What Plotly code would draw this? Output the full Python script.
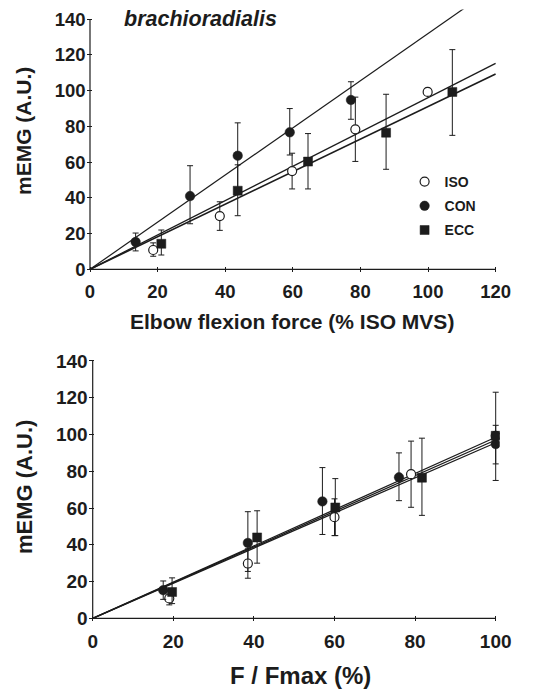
import plotly.graph_objects as go

# ---------------- data ----------------
# Top panel: elbow flexion force (% ISO MVS)
iso_force = [18.7, 38.4, 59.8, 78.5, 99.9]
con_force = [13.5, 29.6, 43.7, 59.1, 77.2]
ecc_force = [21.1, 43.7, 64.5, 87.6, 107.2]
# Bottom panel: F / Fmax (%)
iso_rel = [19.0, 38.5, 60.0, 79.0, 100.0]
con_rel = [17.5, 38.5, 57.0, 76.0, 100.0]
ecc_rel = [19.7, 40.8, 60.2, 81.7, 100.0]
# mEMG (A.U.)
iso_emg = [10.8, 29.8, 55.0, 78.4, 99.3]
con_emg = [15.3, 41.0, 63.6, 76.7, 94.8]
ecc_emg = [14.3, 44.0, 60.3, 76.5, 99.3]
iso_err_up = [4.0, 8.0, 10.0, 18.0, 2.0]
iso_err_dn = [3.5, 8.0, 10.0, 18.0, 2.0]
con_err_up = [5.0, 17.0, 18.4, 13.3, 10.2]
con_err_dn = [5.0, 15.5, 18.0, 12.7, 10.8]
ecc_err_up = [7.7, 14.5, 15.7, 21.5, 23.7]
ecc_err_dn = [6.3, 14.0, 15.3, 20.5, 24.3]
# regression slopes (lines through origin)
top_slopes = {"ISO": 0.961, "CON": 1.32, "ECC": 0.911}
bot_slopes = {"ISO": 0.97, "CON": 0.985, "ECC": 0.955}
top_xmax = 120
bot_xmax = 100
x_ticks_top = [0, 20, 40, 60, 80, 100, 120]
x_ticks_bot = [0, 20, 40, 60, 80, 100]
y_ticks = [0, 20, 40, 60, 80, 100, 120, 140]

W, H = 555, 696
INK = "#1c1c1c"
FONT = "Liberation Sans, Arial, sans-serif"

# ---------------- layout geometry (pixels) ----------------
ML, MR, MT, MB = 86, 55, 9, 74
PW, PH = W - ML - MR, H - MT - MB


def xdom(p0, p1):
    return [(p0 - ML) / PW, (p1 - ML) / PW]


def ydom(pbot, ptop):
    return [(H - MB - pbot) / PH, (H - MB - ptop) / PH]


def px_x(p):
    return (p - ML) / PW


def px_y(p):
    return (H - MB - p) / PH


# top axes: x 0->90px, 3.38 px/unit ; y 0->269.3px, 1.786 px/unit
tx0, tsx = 90.0, 3.38
ty0, tsy = 269.3, 1.786
t_xr = [-1.0, 121.0]
t_yr = [-1.5, 145.4]
# bottom axes: x 0->92.7px, 4.03 px/unit ; y 0->618.3px, 1.838 px/unit
bx0, bsx = 92.7, 4.03
by0, bsy = 618.3, 1.838
b_xr = [-1.0, 101.0]
b_yr = [-1.5, 142.0]

fig = go.Figure()

styles = {
    "ISO": dict(symbol="circle", size=9, color="white", line=dict(color=INK, width=1.2)),
    "CON": dict(symbol="circle", size=9.5, color=INK, line=dict(color=INK, width=0.5)),
    "ECC": dict(symbol="square", size=9, color=INK, line=dict(color=INK, width=0.5)),
}
line_w = {"ISO": 1.3, "CON": 1.2, "ECC": 1.6}

top_sets = {
    "ISO": (iso_force, iso_emg, iso_err_up, iso_err_dn),
    "CON": (con_force, con_emg, con_err_up, con_err_dn),
    "ECC": (ecc_force, ecc_emg, ecc_err_up, ecc_err_dn),
}
bot_sets = {
    "ISO": (iso_rel, iso_emg, iso_err_up, iso_err_dn),
    "CON": (con_rel, con_emg, con_err_up, con_err_dn),
    "ECC": (ecc_rel, ecc_emg, ecc_err_up, ecc_err_dn),
}

# regression lines
for name in ["CON", "ISO", "ECC"]:
    fig.add_trace(go.Scatter(x=[0, top_xmax], y=[0, top_slopes[name] * top_xmax],
                             mode="lines", line=dict(color=INK, width=line_w[name]),
                             showlegend=False, hoverinfo="skip", xaxis="x", yaxis="y"))
    fig.add_trace(go.Scatter(x=[0, bot_xmax], y=[0, bot_slopes[name] * bot_xmax],
                             mode="lines", line=dict(color=INK, width=1.3),
                             showlegend=False, hoverinfo="skip", xaxis="x2", yaxis="y2"))

# data points with error bars
for name in ["ISO", "CON", "ECC"]:
    for sets, xa, ya, leg in [(top_sets, "x", "y", True), (bot_sets, "x2", "y2", False)]:
        xs, ys, up, dn = sets[name]
        fig.add_trace(go.Scatter(
            x=xs, y=ys, mode="markers", name=name, xaxis=xa, yaxis=ya,
            marker=styles[name], showlegend=leg, legendgroup=name,
            error_y=dict(type="data", symmetric=False, array=up, arrayminus=dn,
                         color=INK, thickness=1, width=3),
        ))

tick_font = dict(family=FONT, size=18.5, color=INK, weight="bold")
bot_font = dict(family=FONT, size=19, color=INK, weight="bold")
axis_common = dict(showgrid=False, zeroline=False, showline=False, ticks="inside",
                   ticklen=5, tickwidth=1, tickcolor=INK, automargin=False)

fig.update_layout(
    template="none",
    width=W, height=H, margin=dict(l=ML, r=MR, t=MT, b=MB, autoexpand=False),
    paper_bgcolor="white", plot_bgcolor="white",
    font=dict(family=FONT, color=INK),
    xaxis=dict(domain=xdom(tx0 + t_xr[0] * tsx, tx0 + t_xr[1] * tsx), range=t_xr,
               tickvals=x_ticks_top, anchor="y", ticklabelstandoff=7,
               tickfont=tick_font, **axis_common),
    yaxis=dict(domain=ydom(ty0 - t_yr[0] * tsy, ty0 - t_yr[1] * tsy), range=t_yr,
               tickvals=y_ticks, anchor="x", ticklabelstandoff=0,
               tickfont=tick_font, **axis_common),
    xaxis2=dict(domain=xdom(bx0 + b_xr[0] * bsx, bx0 + b_xr[1] * bsx), range=b_xr,
                tickvals=x_ticks_bot, anchor="y2", ticklabelstandoff=7,
                tickfont=bot_font, **axis_common),
    yaxis2=dict(domain=ydom(by0 - b_yr[0] * bsy, by0 - b_yr[1] * bsy), range=b_yr,
                tickvals=y_ticks, anchor="x2", ticklabelstandoff=0,
                tickfont=bot_font, **axis_common),
    legend=dict(x=px_x(404.6), y=px_y(166), xanchor="left", yanchor="top",
                bgcolor="rgba(0,0,0,0)", tracegroupgap=3, itemsizing="trace",
                font=dict(family=FONT, size=14, color=INK, weight="bold")),
    showlegend=True,
)

# axis lines
for xr, yr, xmax in [("x", "y", top_xmax), ("x2", "y2", bot_xmax)]:
    fig.add_shape(type="line", xref=xr, yref=yr, x0=0, y0=0, x1=xmax, y1=0,
                  line=dict(color=INK, width=1.2))
    fig.add_shape(type="line", xref=xr, yref=yr, x0=0, y0=0, x1=0, y1=140,
                  line=dict(color=INK, width=1.2))

# texts
ann = [
    dict(text="brachioradialis", x=px_x(121.5), y=px_y(19), xanchor="left", yanchor="middle",
         font=dict(size=21.5, style="italic", weight="bold")),
    dict(text="mEMG (A.U.)", x=px_x(23), y=px_y(131), textangle=-90, xanchor="center",
         yanchor="middle", font=dict(size=21, weight="bold")),
    dict(text="Elbow flexion force (% ISO MVS)", x=px_x(292), y=px_y(321), xanchor="center",
         yanchor="middle", font=dict(size=21, weight="bold")),
    dict(text="mEMG (A.U.)", x=px_x(24), y=px_y(487), textangle=-90, xanchor="center",
         yanchor="middle", font=dict(size=22, weight="bold")),
    dict(text="F / Fmax (%)", x=px_x(300), y=px_y(675), xanchor="center",
         yanchor="middle", font=dict(size=24, weight="bold")),
]
for a in ann:
    a["font"] = {"family": FONT, "color": INK, **a["font"]}
    fig.add_annotation(xref="paper", yref="paper", showarrow=False, **a)

fig.write_html("out.html", config={"displayModeBar": False},
               post_script="document.body.style.margin='0';")
